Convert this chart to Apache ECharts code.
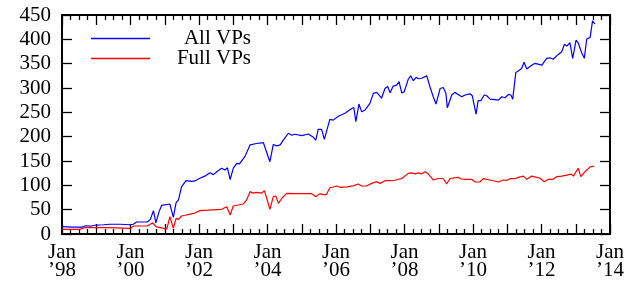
<!DOCTYPE html>
<html><head><meta charset="utf-8">
<script src="https://cdn.jsdelivr.net/npm/echarts@6/dist/echarts.min.js"></script>
<style>html,body{margin:0;padding:0;background:#fff}#c{width:636px;height:285px}</style>
</head><body><div id="c"></div>
<script>
const seriesNames = ['All VPs', 'Full VPs'];
const allYears = [1998.00,1998.30,1998.57,1998.70,1998.82,1998.96,1999.21,1999.40,1999.70,1999.99,2000.08,2000.18,2000.49,2000.58,2000.67,2000.74,2000.83,2000.91,2001.15,2001.25,2001.33,2001.40,2001.49,2001.62,2001.79,2001.88,2002.01,2002.20,2002.32,2002.42,2002.52,2002.66,2002.76,2002.83,2002.91,2003.00,2003.10,2003.18,2003.34,2003.49,2003.68,2003.88,2003.93,2004.07,2004.17,2004.27,2004.37,2004.46,2004.61,2004.71,2004.80,2005.00,2005.19,2005.34,2005.41,2005.48,2005.58,2005.66,2005.82,2005.92,2006.07,2006.26,2006.46,2006.52,2006.58,2006.67,2006.75,2006.85,2006.99,2007.09,2007.19,2007.33,2007.43,2007.51,2007.58,2007.67,2007.77,2007.84,2007.92,2007.99,2008.11,2008.18,2008.26,2008.34,2008.40,2008.50,2008.65,2008.74,2008.84,2008.92,2009.04,2009.13,2009.21,2009.25,2009.38,2009.47,2009.67,2009.77,2009.91,2009.98,2010.09,2010.15,2010.23,2010.33,2010.40,2010.50,2010.64,2010.74,2010.84,2010.93,2011.05,2011.11,2011.16,2011.25,2011.32,2011.42,2011.49,2011.57,2011.66,2011.81,2012.01,2012.15,2012.25,2012.34,2012.49,2012.59,2012.67,2012.74,2012.83,2012.91,2013.01,2013.07,2013.17,2013.25,2013.32,2013.42,2013.49,2013.56];
const allValues = [15,14,14,17,16,18,19,20,20,19,20,24.7,24.7,30,48,23,45,59,61.6,34,64,70,97,109.5,108,109,114,120,126,122,128,135,131.5,136,112,135,145,144,159,183,186,187.6,190,148.6,184,181,183,193,207,203,205,202,205.5,198.6,193,215,215,194.5,235.6,234,242,248,258,260,231,267,251,255,268.5,289,291,279,299,303,290,304,306,313,290,292,318,325,315,322,319,320,325,303,282,267,299,301,289,259.5,285.6,291,282,285.6,288,284,246,274,274,285.6,284,277,276,275,282,280,287,285,277,332,335,340,353,339,344,350.7,347,361,362,359,369,374.6,390,386,393,361,398.6,393,373,361,400.6,404,438,431.5];
const fullYears = [1998.00,1998.50,1998.67,1999.21,1999.60,1999.99,2000.10,2000.49,2000.65,2000.74,2000.96,2001.06,2001.15,2001.25,2001.33,2001.40,2001.49,2001.60,2001.74,2001.88,2002.03,2002.27,2002.66,2002.81,2002.91,2003.00,2003.29,2003.39,2003.49,2003.58,2003.68,2003.83,2003.91,2003.98,2004.07,2004.17,2004.24,2004.32,2004.41,2004.56,2004.80,2005.29,2005.41,2005.53,2005.63,2005.72,2005.82,2005.92,2006.02,2006.12,2006.32,2006.50,2006.65,2006.75,2006.89,2007.04,2007.19,2007.29,2007.43,2007.58,2007.72,2007.92,2008.11,2008.21,2008.31,2008.40,2008.50,2008.60,2008.69,2008.84,2008.99,2009.13,2009.23,2009.33,2009.57,2009.65,2009.77,2009.96,2010.06,2010.20,2010.30,2010.50,2010.74,2010.88,2010.98,2011.08,2011.23,2011.32,2011.47,2011.57,2011.71,2011.86,2011.96,2012.08,2012.20,2012.34,2012.44,2012.59,2012.74,2012.86,2012.93,2013.07,2013.15,2013.27,2013.42,2013.54];
const fullValues = [9.6,9.6,13,13,12.5,11.6,16.4,16.4,23,15,11.6,10,35.6,11.6,32,30,37,38.5,41,43,48,49,50.7,56,39,57.5,61.6,70,87,84,85.5,84,89,73,50.7,76.7,78,63,73,83.6,82.8,82.8,76.7,83,81,81,95,96.5,98.6,96,97,99,102.7,98.6,98.6,104,107.5,104,109.5,109.5,110.5,114,124.6,125.6,123.6,125.6,123.6,128,123.6,111,114,114,102.7,114,116.5,113,112.3,112.3,106.8,106.8,113.7,111,106.8,111,110,113.7,113.7,116.5,119,112.3,119,116.5,114.5,107.5,112.3,112.3,117.8,119,121,123,119,135,117.8,128,138,139.7];
const xMin = 1998, xMax = 2014;
const yTicks = [0,50,100,150,200,250,300,350,400,450];

const FONT = 'Liberation Serif';
const zip = (xs, ys) => xs.map((x, i) => [x, ys[i]]);
const xLabel = v => (Math.round(v) % 2 === 0) ? 'Jan\n\u2019' + String(Math.round(v)).slice(2) : '';

const chart = echarts.init(document.getElementById('c'), null, {renderer: 'canvas'});
const xBase = {
  type: 'value', min: xMin, max: xMax, interval: 1,
  axisLine: {show: true, onZero: false, lineStyle: {color: '#000', width: 2}},
  axisTick: {show: true, inside: true, length: 10, lineStyle: {color: '#000', width: 1.3}},
  minorTick: {show: true, splitNumber: 4, length: 5, lineStyle: {color: '#000', width: 1.3}},
  splitLine: {show: false}
};
const yBase = {
  type: 'value', min: yTicks[0], max: yTicks[yTicks.length - 1], interval: 50,
  axisLine: {show: true, onZero: false, lineStyle: {color: '#000', width: 2}},
  axisTick: {show: true, inside: true, length: 10, lineStyle: {color: '#000', width: 1.3}},
  splitLine: {show: false}
};
const legendFor = (name, top) => ({
  orient: 'vertical', left: 86, top: top,
  itemWidth: 59, itemHeight: 1.5, icon: 'rect',
  data: [name],
  formatter: n => '{t|' + n + '}',
  textStyle: {fontFamily: FONT, fontSize: 21, color: '#000',
    rich: {t: {fontFamily: FONT, fontSize: 21, color: '#000', width: 96, align: 'right'}}}
});
chart.setOption({
  animation: false,
  backgroundColor: '#fff',
  grid: {left: 62, right: 26, top: 15, bottom: 51},
  legend: [legendFor(seriesNames[0], 23), legendFor(seriesNames[1], 43)],
  xAxis: [
    Object.assign({}, xBase, {position: 'bottom',
      axisLabel: {show: true, margin: 9, formatter: xLabel, fontFamily: FONT, fontSize: 21, color: '#000', lineHeight: 18, showMinLabel: true, showMaxLabel: true, hideOverlap: false}}),
    Object.assign({}, xBase, {position: 'top', axisLabel: {show: false}})
  ],
  yAxis: [
    Object.assign({}, yBase, {position: 'left',
      axisLabel: {show: true, margin: 11, fontFamily: FONT, fontSize: 21, color: '#000'}}),
    Object.assign({}, yBase, {position: 'right', axisLabel: {show: false}})
  ],
  series: [
    {name: seriesNames[0], type: 'line', data: zip(allYears, allValues), symbol: 'none', color: '#0000ff', lineStyle: {width: 1.2, color: '#0000ff'}},
    {name: seriesNames[1], type: 'line', data: zip(fullYears, fullValues), symbol: 'none', color: '#ff0000', lineStyle: {width: 1.2, color: '#ff0000'}}
  ]
});
</script></body></html>
